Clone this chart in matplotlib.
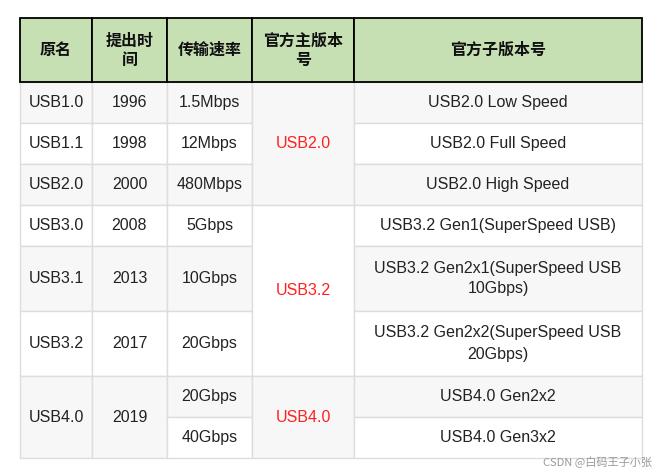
import matplotlib
matplotlib.use("Agg")
from matplotlib import pyplot as plt
from matplotlib.patches import Rectangle

headers = ["原名", "提出时\n间", "传输速率", "官方主版本\n号", "官方子版本号"]
names = ["USB1.0", "USB1.1", "USB2.0", "USB3.0", "USB3.1", "USB3.2", "USB4.0"]
years = ["1996", "1998", "2000", "2008", "2013", "2017", "2019"]
speeds = ["1.5Mbps", "12Mbps", "480Mbps", "5Gbps", "10Gbps", "20Gbps", "20Gbps", "40Gbps"]
majors = ["USB2.0", "USB3.2", "USB4.0"]
subs = ["USB2.0 Low Speed", "USB2.0 Full Speed", "USB2.0 High Speed",
        "USB3.2 Gen1(SuperSpeed USB)", "USB3.2 Gen2x1(SuperSpeed USB\n10Gbps)",
        "USB3.2 Gen2x2(SuperSpeed USB\n20Gbps)", "USB4.0 Gen2x2", "USB4.0 Gen3x2"]

# layout in pixels
col_x = [20, 92, 167, 252, 354, 642]
row_y = [82, 123, 164, 205, 246, 311, 376, 417, 458]
head_top = 18
# row spans for merged columns (start row, end row)
name_spans = [(0, 1), (1, 2), (2, 3), (3, 4), (4, 5), (5, 6), (6, 8)]
major_spans = [(0, 3), (3, 6), (6, 8)]
speed_spans = [(i, i + 1) for i in range(8)]

fig = plt.figure(figsize=(6.62, 4.68), dpi=100)
ax = fig.add_axes([0, 0, 1, 1])
ax.set_xlim(0, 662)
ax.set_ylim(468, 0)
ax.axis("off")

cjk = "Noto Sans CJK SC"
latin = "Liberation Sans"
grid = "#dddddd"


def cell(c, r0, r1, text, color="#222222"):
    x0, x1 = col_x[c], col_x[c + 1]
    y0, y1 = row_y[r0], row_y[r1]
    bg = "#f7f7f7" if r0 % 2 == 0 else "white"
    ax.add_patch(Rectangle((x0, y0), x1 - x0, y1 - y0, facecolor=bg,
                           edgecolor=grid, linewidth=1))
    ax.text((x0 + x1) / 2, (y0 + y1) / 2, text, ha="center", va="center",
            fontsize=11.5, family=latin, color=color, linespacing=1.5)


for (r0, r1), t in zip(name_spans, names):
    cell(0, r0, r1, t)
for (r0, r1), t in zip(name_spans, years):
    cell(1, r0, r1, t)
for (r0, r1), t in zip(speed_spans, speeds):
    cell(2, r0, r1, t)
for (r0, r1), t in zip(major_spans, majors):
    cell(3, r0, r1, t, color="#ff2020")
for (r0, r1), t in zip(speed_spans, subs):
    cell(4, r0, r1, t)

for c, h in enumerate(headers):
    x0, x1 = col_x[c], col_x[c + 1]
    ax.add_patch(Rectangle((x0, head_top), x1 - x0, row_y[0] - head_top,
                           facecolor="#c6e0b4", edgecolor="black", linewidth=1.3))
    ax.text((x0 + x1) / 2, (head_top + row_y[0]) / 2, h, ha="center", va="center",
            fontsize=11.5, family=cjk, fontweight="bold", color="#111111",
            linespacing=1.25)

ax.text(652, 462, "CSDN @白码王子小张", ha="right", va="center", fontsize=8,
        family=cjk, color="#999999")

fig.savefig("out.png", dpi=100)
